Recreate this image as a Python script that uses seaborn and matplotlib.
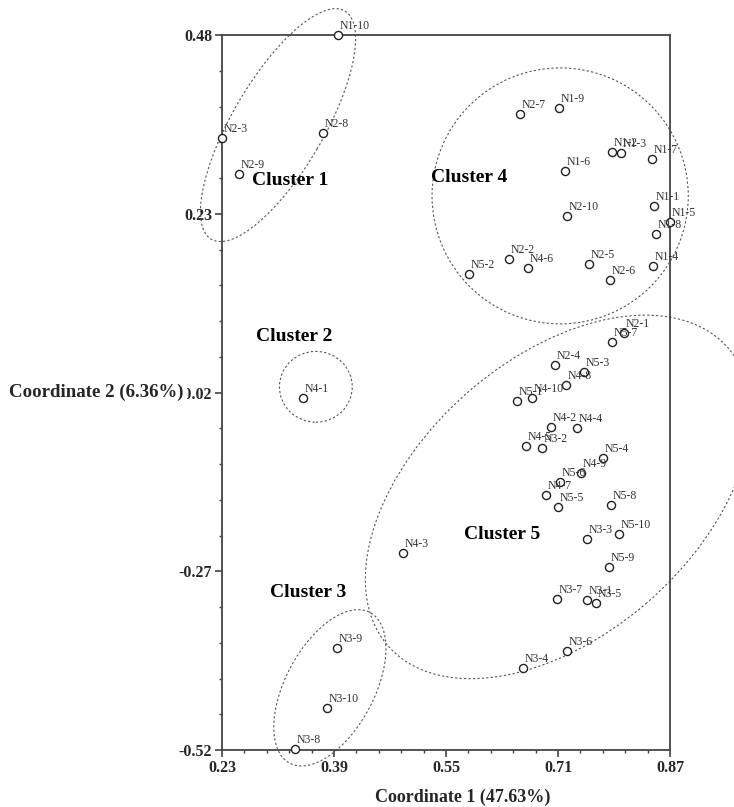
import numpy as np
import pandas as pd
import matplotlib
matplotlib.use('Agg')
import matplotlib.pyplot as plt
from matplotlib.patches import Ellipse
from matplotlib.ticker import FixedLocator
import seaborn as sns

# sample names and MDS coordinates
names = ['N1-10', 'N2-3', 'N2-8', 'N2-9',
         'N2-7', 'N1-9', 'N1-2', 'N1-3', 'N1-7', 'N1-6', 'N1-1', 'N1-5', 'N1-8',
         'N2-10', 'N1-4', 'N2-5', 'N2-6', 'N2-2', 'N4-6', 'N5-2',
         'N4-1',
         'N3-9', 'N3-10', 'N3-8',
         'N2-1', 'N5-7', 'N2-4', 'N5-3', 'N4-8', 'N5-1', 'N4-10', 'N4-2', 'N4-4',
         'N4-5', 'N3-2', 'N5-4', 'N4-9', 'N5-6', 'N4-7', 'N5-5', 'N5-8', 'N3-3',
         'N5-10', 'N5-9', 'N3-7', 'N3-1', 'N3-5', 'N3-6', 'N3-4', 'N4-3']
coord1 = [0.396, 0.230, 0.374, 0.254,
          0.656, 0.711, 0.787, 0.800, 0.844, 0.720, 0.847, 0.870, 0.850,
          0.723, 0.846, 0.754, 0.784, 0.640, 0.667, 0.583,
          0.346,
          0.394, 0.380, 0.334,
          0.804, 0.787, 0.706, 0.747, 0.721, 0.651, 0.673, 0.700, 0.737,
          0.664, 0.687, 0.774, 0.743, 0.713, 0.693, 0.710, 0.786, 0.751,
          0.797, 0.783, 0.709, 0.751, 0.764, 0.723, 0.660, 0.489]
coord2 = [0.480, 0.336, 0.343, 0.286,
          0.370, 0.378, 0.316, 0.315, 0.307, 0.290, 0.241, 0.218, 0.202,
          0.227, 0.157, 0.160, 0.137, 0.167, 0.154, 0.146,
          -0.028,
          -0.377, -0.461, -0.519,
          0.063, 0.051, 0.018, 0.009, -0.010, -0.032, -0.028, -0.068, -0.070,
          -0.095, -0.098, -0.112, -0.133, -0.145, -0.163, -0.180, -0.177, -0.225,
          -0.218, -0.264, -0.309, -0.310, -0.314, -0.382, -0.405, -0.245]

cluster_names = ['Cluster 1', 'Cluster 2', 'Cluster 3', 'Cluster 4', 'Cluster 5']
cluster_text_x = [0.327, 0.333, 0.353, 0.583, 0.630]
cluster_text_y = [0.277, 0.058, -0.299, 0.281, -0.219]
# ellipse centre x, centre y, width, height, angle
cluster_ellipses = [(0.310, 0.354, 0.372, 0.130, 59),
                    (0.364, -0.012, 0.104, 0.099, 0),
                    (0.384, -0.433, 0.240, 0.126, 61),
                    (0.713, 0.255, 0.366, 0.358, 0),
                    (0.710, -0.166, 0.640, 0.390, 40)]

x_ticks = [0.23, 0.39, 0.55, 0.71, 0.87]
y_ticks = [0.48, 0.23, -0.02, -0.27, -0.52]
y_tick_labels = ['0.48', '0.23', '-0.02', '-0.27', '-0.52']

df = pd.DataFrame({'name': names, 'c1': coord1, 'c2': coord2})

sns.set_theme(style='white')
serif = ['Liberation Serif', 'DejaVu Serif']
plt.rcParams['font.family'] = serif

fig = plt.figure(figsize=(7.34, 8.07), dpi=100)
ax = fig.add_axes([0.3025, 0.0706, 0.6104, 0.886])

sns.scatterplot(data=df, x='c1', y='c2', ax=ax, s=34, facecolor='white',
                edgecolor='#222222', linewidth=1.0, clip_on=False, zorder=5)

for n, x, y in zip(names, coord1, coord2):
    ax.annotate(n, (x, y), xytext=(1.2, 2.2), textcoords='offset points',
                ha='left', va='bottom', fontsize=8.5, color='#333333',
                annotation_clip=False, zorder=6)

for (cx, cy, w, h, a) in cluster_ellipses:
    e = Ellipse((cx, cy), w, h, angle=a, fill=False, edgecolor='#555555',
                linewidth=0.8, linestyle=(0, (2, 2)), clip_on=False)
    ax.add_patch(e)

for t, x, y in zip(cluster_names, cluster_text_x, cluster_text_y):
    ax.text(x, y, t, ha='center', va='center', fontsize=14, fontweight='bold',
            color='black')

ax.set_xlim(0.23, 0.87)
ax.set_ylim(-0.52, 0.48)
ax.set_xticks(x_ticks)
ax.set_xticklabels([f'{v:.2f}' for v in x_ticks])
ax.set_yticks(y_ticks)
ax.set_yticklabels(y_tick_labels)
ax.xaxis.set_minor_locator(FixedLocator(np.arange(0.23, 0.8701, 0.032)))
ax.yaxis.set_minor_locator(FixedLocator(np.arange(-0.52, 0.4801, 0.05)))
ax.tick_params(axis='both', which='major', direction='out', length=5, width=1.2,
               color='#444444', labelsize=11.5, pad=2, bottom=True, left=True,
               top=False, right=False)
ax.tick_params(axis='both', which='minor', direction='out', length=2.5, width=1.0,
               color='#444444', bottom=True, left=True, top=False, right=False)
for lab in ax.get_xticklabels() + ax.get_yticklabels():
    lab.set_fontweight('bold')
for sp in ax.spines.values():
    sp.set_visible(True)
    sp.set_color('#444444')
    sp.set_linewidth(1.3)
ax.set_xlabel('')
ax.set_ylabel('')

fig.text(0.631, 0.0124, 'Coordinate 1 (47.63%)', ha='center', va='center',
         fontsize=13, fontweight='bold')
fig.text(0.012, 1 - 392 / 807, 'Coordinate 2 (6.36%)', ha='left', va='center',
         fontsize=13.6, fontweight='bold',
         bbox=dict(facecolor='white', edgecolor='none', pad=2.5))

fig.savefig('out.png', dpi=100)
